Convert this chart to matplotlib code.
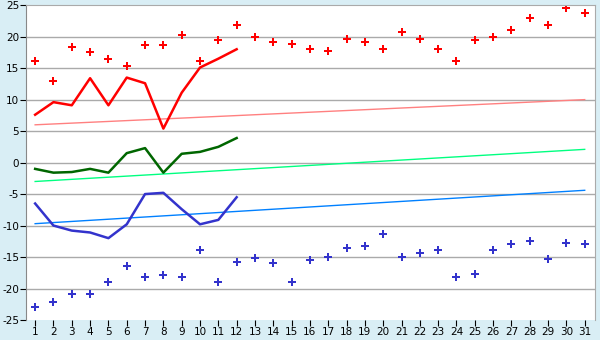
import numpy as np
import matplotlib.pyplot as plt

plt.rcParams['axes.unicode_minus'] = False

days = np.arange(1, 32)

# record highs / lows for each day of the month
rec_max = [16.1, 13.0, 18.3, 17.5, 16.4, 15.3, 18.6, 18.6, 20.2, 16.1, 19.4, 21.8, 19.9, 19.2, 18.8,
           18.0, 17.8, 19.6, 19.1, 18.1, 20.7, 19.6, 18.0, 16.1, 19.4, 20.0, 21.1, 22.9, 21.8, 24.6, 23.7]
rec_min = [-23.0, -22.2, -20.8, -20.9, -19.0, -16.5, -18.2, -17.9, -18.2, -13.9, -18.9, -15.8, -15.2, -16.0, -19.0,
           -15.5, -15.0, -13.5, -13.3, -11.4, -15.0, -14.3, -13.9, -18.1, -17.7, -13.9, -13.0, -12.5, -15.3, -12.8, -13.0]

# this month so far (days 1-12)
cur_max = [7.6, 9.6, 9.1, 13.4, 9.1, 13.5, 12.6, 5.4, 11.1, 15.1, 16.5, 18.0]
cur_mean = [-1.0, -1.6, -1.5, -1.0, -1.6, 1.5, 2.3, -1.6, 1.4, 1.7, 2.5, 3.9]
cur_min = [-6.5, -10.0, -10.8, -11.1, -12.0, -9.8, -5.0, -4.8, -7.4, -9.8, -9.1, -5.5]

# long-term average max / mean / min (start, end of month)
avg_max = [6.0, 10.0]
avg_mean = [-3.0, 2.1]
avg_min = [-9.7, -4.4]

bg = '#d9eef5'
fig = plt.figure(figsize=(6, 3.4), dpi=100, facecolor=bg)
ax = fig.add_axes([0.0433, 0.0588, 0.948, 0.926])
ax.set_facecolor('white')

for y in range(-20, 25, 5):
    ax.axhline(y, color='#aaaaaa', lw=1, zorder=0)

ends = [days[0], days[-1]]
ax.plot(ends, avg_max, color='#ff8080', lw=1)
ax.plot(ends, avg_mean, color='#00ff80', lw=1)
ax.plot(ends, avg_min, color='#0080ff', lw=1)

n = len(cur_max)
ax.plot(days[:n], cur_max, color='#ff0000', lw=1.8)
ax.plot(days[:n], cur_mean, color='#006600', lw=1.8)
ax.plot(days[:n], cur_min, color='#3333cc', lw=1.8)

ax.plot(days, rec_max, 'P', color='#ff0000', ms=5.5, mew=0)
ax.plot(days, rec_min, 'P', color='#3333cc', ms=5.5, mew=0)

ax.set_xlim(0.5, 31.55)
ax.set_ylim(-25, 25)
ax.set_xticks(days)
ax.set_yticks(range(-25, 26, 5))
ax.tick_params(labelsize=7.5, length=4, color='black', pad=1)

for s in ['top', 'right']:
    ax.spines[s].set_color('#aaaaaa')
ax.spines['bottom'].set_visible(False)
ax.spines['left'].set_color('#888888')

fig.savefig('out.png', dpi=100, facecolor=bg)
